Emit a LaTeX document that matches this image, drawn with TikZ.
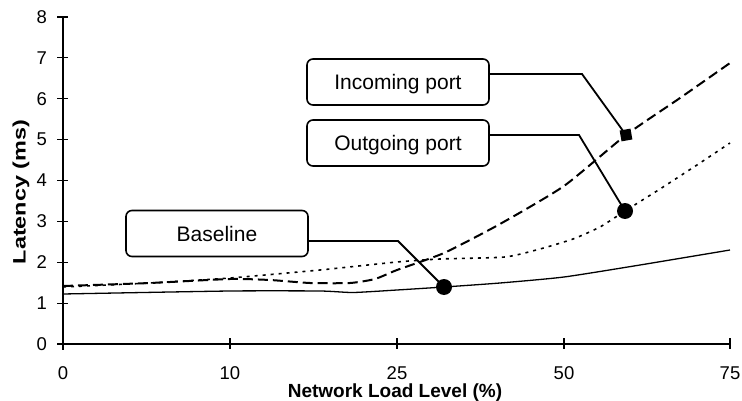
\documentclass[tikz,border=0pt]{standalone}
\usepackage{fontspec}
\setmainfont{Liberation Sans}
\begin{document}
\begin{tikzpicture}[x=1pt,y=-1pt,
  axis/.style={line width=1.4pt},
  tickmark/.style={line width=1.2pt},
  ticklabel/.style={font=\fontsize{18.5}{18.5}\selectfont, inner sep=0pt},
  axistitle/.style={font=\bfseries\fontsize{19}{19}\selectfont, inner sep=0pt},
  callout/.style={draw, line width=1.6pt, rounded corners=6pt,
    minimum width=182pt, minimum height=46pt, inner sep=0pt,
    text height=15pt, text depth=0pt, font=\fontsize{21}{21}\selectfont},
  leader/.style={line width=1.8pt},
  dotmark/.style={circle, fill, inner sep=0pt, minimum size=16pt},
  sqmark/.style={rectangle, fill, inner sep=0pt, minimum size=11pt, rotate=10},
  basecurve/.style={line width=1.3pt},
  incurve/.style={line width=2pt, dash pattern=on 10pt off 5pt},
  outcurve/.style={line width=1.6pt, dash pattern=on 3pt off 5pt},
]
\useasboundingbox (0,0) rectangle (742,401);

% axes
\coordinate (o) at (63,344);
\coordinate (ytop) at (63,17);
\coordinate (ybot) at (63,350);
\coordinate (xend) at (730,344);
\draw[axis] (ytop) -- (ybot);
\draw[axis] (o) -- (xend);

% y ticks and labels
\foreach \k in {0,...,8} {
  \draw[tickmark] (57,{344-40.875*\k}) -- (68,{344-40.875*\k});
  \node[ticklabel, anchor=east] (yl\k) at (47,{344-40.875*\k}) {\k};
}
% x ticks and labels
\foreach \xp/\lab in {230/10,397/25,564/50,730/75} {
  \draw[tickmark] (\xp,338) -- (\xp,349);
}
\foreach \xp/\lab in {63/0,230/10,397/25,564/50,730/75} {
  \node[ticklabel, anchor=base] (xl\lab) at (\xp,379) {\lab};
}

% axis titles
\node[inner sep=0pt, rotate=90, font=\bfseries\fontsize{18}{18}\selectfont] (ytitle) at (21,192)
  {\scalebox{1.3}[1]{Latency (ms)}};
\node[axistitle, anchor=base] (xtitle) at (395,397) {Network Load Level (\%)};

% data series
\draw[basecurve] plot[smooth, tension=0.35] coordinates {
  (63,294) (230,291) (320,291) (353,292.5) (397,290) (444,287)
  (500,283) (564,277) (640,265) (730,250)};
\draw[outcurve] plot[smooth, tension=0.35] coordinates {
  (63,287) (150,283) (230,278) (320,270) (397,262) (440,259)
  (505,257) (540,249) (573,239) (600,227) (625,211) (660,189)
  (700,163) (730,143)};
\draw[incurve] plot[smooth, tension=0.35] coordinates {
  (63,286) (150,283) (230,279) (270,280) (310,283) (350,283)
  (375,279) (397,270) (444,253) (500,224) (564,186) (626,135) (680,98) (730,63)};

% markers
\node[dotmark] (basept) at (444,287) {};
\node[dotmark] (outpt) at (625,211) {};
\node[sqmark] (inpt) at (626,135) {};

% callouts
\node[callout] (inbox) at (398,82) {Incoming port};
\node[callout] (outbox) at (398,143) {Outgoing port};
\node[callout] (basebox) at (217,233.5) {Baseline};

\coordinate (inbend) at (582,74);
\coordinate (outbend) at (579,135);
\coordinate (basebend) at (398,241);
\draw[leader] ([yshift=8pt]inbox.east) -- (inbend) -- (inpt.center);
\draw[leader] ([yshift=8pt]outbox.east) -- (outbend) -- (outpt.center);
\draw[leader] ([yshift=-7.5pt]basebox.east) -- (basebend) -- (basept.center);
\end{tikzpicture}
\end{document}
